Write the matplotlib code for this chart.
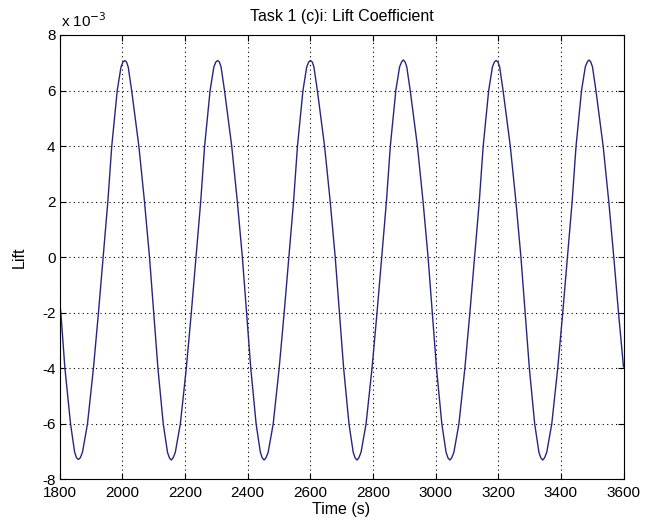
import matplotlib
matplotlib.use("Agg")
import matplotlib.pyplot as plt
from matplotlib.ticker import FuncFormatter, MultipleLocator

plt.rcParams['font.family'] = ['Liberation Sans', 'DejaVu Sans']

# Time (s) and lift (x 1e-3)
time_s = [1800, 1804, 1817, 1835, 1848, 1854,
          1860, 1866, 1873, 1889, 1908, 1924, 1939, 1954, 1966.5, 1984, 1996, 2002.5,
          2008, 2013.5, 2019, 2030, 2053, 2071, 2087, 2100.4, 2113.9, 2130.9, 2144.4, 2150.4,
          2156.4, 2162.4, 2169.4, 2185.4, 2204.4, 2220.4, 2235.4, 2250.4, 2262.9, 2280.4, 2292.4, 2298.9,
          2304.4, 2309.9, 2315.4, 2326.4, 2349.4, 2367.4, 2383.4, 2396.8, 2410.3, 2427.3, 2440.8, 2446.8,
          2452.8, 2458.8, 2465.8, 2481.8, 2500.8, 2516.8, 2531.8, 2546.8, 2559.3, 2576.8, 2588.8, 2595.3,
          2600.8, 2606.3, 2611.8, 2622.8, 2645.8, 2663.8, 2679.8, 2693.2, 2706.7, 2723.7, 2737.2, 2743.2,
          2749.2, 2755.2, 2762.2, 2778.2, 2797.2, 2813.2, 2828.2, 2843.2, 2855.7, 2873.2, 2885.2, 2891.7,
          2897.2, 2902.7, 2908.2, 2919.2, 2942.2, 2960.2, 2976.2, 2989.6, 3003.1, 3020.1, 3033.6, 3039.6,
          3045.6, 3051.6, 3058.6, 3074.6, 3093.6, 3109.6, 3124.6, 3139.6, 3152.1, 3169.6, 3181.6, 3188.1,
          3193.6, 3199.1, 3204.6, 3215.6, 3238.6, 3256.6, 3272.6, 3286, 3299.5, 3316.5, 3330, 3336,
          3342, 3348, 3355, 3371, 3390, 3406, 3421, 3436, 3448.5, 3466, 3478, 3484.5,
          3490, 3495.5, 3501, 3512, 3535, 3553, 3569, 3584, 3600]

lift_e3 = [-1.6, -2.0, -4.0, -6.0, -7.02, -7.22,
           -7.28, -7.22, -7.02, -6.0, -4.0, -2.0, 0.0, 2.0, 4.0, 6.0, 6.85, 7.03,
           7.08, 7.03, 6.85, 6.0, 4.0, 2.0, 0.0, -2.0, -4.0, -6.0, -7.02, -7.22,
           -7.3, -7.22, -7.02, -6.0, -4.0, -2.0, 0.0, 2.0, 4.0, 6.0, 6.85, 7.03,
           7.08, 7.03, 6.85, 6.0, 4.0, 2.0, 0.0, -2.0, -4.0, -6.0, -7.02, -7.22,
           -7.3, -7.22, -7.02, -6.0, -4.0, -2.0, 0.0, 2.0, 4.0, 6.0, 6.85, 7.03,
           7.08, 7.03, 6.85, 6.0, 4.0, 2.0, 0.0, -2.0, -4.0, -6.0, -7.02, -7.22,
           -7.3, -7.22, -7.02, -6.0, -4.0, -2.0, 0.0, 2.0, 4.0, 6.0, 6.85, 7.03,
           7.1, 7.03, 6.85, 6.0, 4.0, 2.0, 0.0, -2.0, -4.0, -6.0, -7.02, -7.22,
           -7.3, -7.22, -7.02, -6.0, -4.0, -2.0, 0.0, 2.0, 4.0, 6.0, 6.85, 7.03,
           7.08, 7.03, 6.85, 6.0, 4.0, 2.0, 0.0, -2.0, -4.0, -6.0, -7.02, -7.22,
           -7.3, -7.22, -7.02, -6.0, -4.0, -2.0, 0.0, 2.0, 4.0, 6.0, 6.85, 7.03,
           7.1, 7.03, 6.85, 6.0, 4.0, 2.0, 0.0, -2.0, -3.95]

lift = [v * 1e-3 for v in lift_e3]

title = "Task 1 (c)i: Lift Coefficient"
xlabel = "Time (s)"
ylabel = "Lift"

fig = plt.figure(figsize=(6.52, 5.29), dpi=100)
fig.patch.set_facecolor('white')
ax = fig.add_axes([0.0914, 0.0936, 0.8649, 0.8403])

ax.plot(time_s, lift, color='#262680', linewidth=1.0)

ax.set_xlim(1800, 3600)
ax.set_ylim(-8e-3, 8e-3)
ax.xaxis.set_major_locator(MultipleLocator(200))
ax.yaxis.set_major_locator(MultipleLocator(2e-3))
ax.yaxis.set_major_formatter(FuncFormatter(lambda v, p: f"{v*1e3:.0f}"))

ax.grid(True, color='black', linestyle=(0, (1, 3)), linewidth=0.8)
ax.tick_params(direction='in', top=True, right=True, length=4, width=0.8,
               labelsize=11, colors='black', pad=3)
ax.tick_params(axis='x', pad=5)
for s in ax.spines.values():
    s.set_linewidth(0.8)
    s.set_color('black')

ax.set_title(title, fontsize=11.5, pad=10)
ax.set_xlabel(xlabel, fontsize=11.5, labelpad=1)
ax.set_ylabel(ylabel, fontsize=11.5)
ax.yaxis.set_label_coords(-0.058, 0.5)

fig.text(61 / 652, 1 - 27 / 529, r"x 10$^{-3}$", fontsize=11, ha='left', va='baseline')

fig.savefig("out.png", dpi=100, facecolor='white')
